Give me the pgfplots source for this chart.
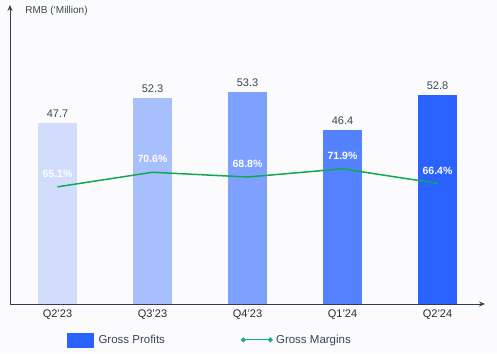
\documentclass[border=0pt]{standalone}
\usepackage{pgfplots}
\pgfplotsset{compat=1.18}
\usepackage{fontspec}
\setmainfont{Liberation Sans}
\usetikzlibrary{arrows.meta}
\definecolor{bg}{HTML}{FBFBFE}
\definecolor{c1}{HTML}{D2DDFE}
\definecolor{c2}{HTML}{A8BFFE}
\definecolor{c3}{HTML}{7EA1FF}
\definecolor{c4}{HTML}{5482FF}
\definecolor{c5}{HTML}{2A62FF}
\definecolor{axisc}{HTML}{2E3F55}
\definecolor{tickc}{HTML}{2B2B2B}
\definecolor{valc}{HTML}{3A4654}
\definecolor{lineg}{HTML}{10A850}
\definecolor{legg}{HTML}{16AE8A}
\begin{document}
\begin{tikzpicture}
\path[use as bounding box, fill=bg] (0,0) rectangle (497pt,353pt);
\begin{axis}[
  at={(10pt,49pt)}, anchor=south west, scale only axis,
  width=475pt, height=299pt,
  xmin=-0.5, xmax=4.5, ymin=14.8, ymax=69.2,
  axis lines=left,
  axis line style={draw=axisc, line width=0.9pt, -{Stealth[length=6pt,width=5pt]}},
  ytick=\empty, xtick={0,1,2,3,4},
  xticklabels={Q2'23,Q3'23,Q4'23,Q1'24,Q2'24},
  major tick length=0pt,
  xticklabel style={font=\fontsize{11}{13}\selectfont, text=tickc, yshift=-2.5pt},
  clip=false,
  ybar, bar width=0.41,
  nodes near coords,
  nodes near coords style={font=\fontsize{11}{13}\selectfont, text=valc, anchor=center, yshift=9.5pt},
  /pgf/number format/fixed, /pgf/number format/fixed zerofill, /pgf/number format/precision=1,
  /pgf/number format/assume math mode=true,
]
\addplot[fill=c1, draw=none, bar shift=0pt] coordinates {(0,47.7)};
\addplot[fill=c2, draw=none, bar shift=0pt] coordinates {(1,52.3)};
\addplot[fill=c3, draw=none, bar shift=0pt] coordinates {(2,53.3)};
\addplot[fill=c4, draw=none, bar shift=0pt] coordinates {(3,46.4)};
\addplot[fill=c5, draw=none, bar shift=0pt] coordinates {(4,52.8)};
\node[anchor=west, font=\fontsize{10}{12}\selectfont, text=valc] at (axis description cs:0.025,0.98) {RMB (‘Million)};
\end{axis}
\begin{axis}[
  at={(10pt,49pt)}, anchor=south west, scale only axis,
  width=475pt, height=299pt,
  xmin=-0.5, xmax=4.5, ymin=20.9, ymax=133.7,
  axis lines=none, clip=false,
  /pgf/number format/assume math mode=true,
  legend columns=2,
  legend style={draw=none, fill=none, at={(0.421,-0.12)}, anchor=center,
    font=\fontsize{11.5}{13}\selectfont, text=valc,
    /tikz/every even column/.append style={column sep=74pt}},
  legend cell align=left,
]
\addlegendimage{legend image code/.code={\fill[c5] (0pt,-7pt) rectangle (26pt,7pt); \path (29pt,0pt);}}
\addlegendentry{Gross Profits}
\addplot[color=lineg, line width=1.5pt, mark=none,
  nodes near coords={\pgfmathprintnumber[fixed,fixed zerofill,precision=1]{\pgfplotspointmeta}\%},
  nodes near coords style={text=white, font=\bfseries\fontsize{10.5}{12}\selectfont, anchor=center, yshift=13pt},
  legend image code/.code={\draw[legg, line width=1.2pt] (0pt,0pt) -- (27pt,0pt); \fill[legg] (0pt,0pt) circle (1.6pt) (27pt,0pt) circle (1.6pt); \path (30pt,0pt);}
] coordinates {(0,65.1) (1,70.6) (2,68.8) (3,71.9) (4,66.4)};
\addlegendentry{Gross Margins}
\end{axis}
\end{tikzpicture}
\end{document}
